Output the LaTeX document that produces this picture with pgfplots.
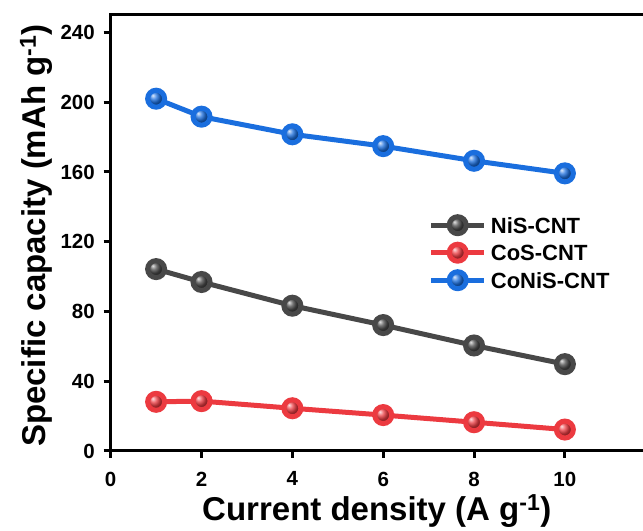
\documentclass[border=0pt]{standalone}
\usepackage{fontspec}
\setmainfont{Liberation Sans}
\usepackage{pgfplots}
\pgfplotsset{compat=1.18}
\usetikzlibrary{calc}
\definecolor{cgray}{RGB}{72,72,72}
\definecolor{cred}{RGB}{236,58,64}
\definecolor{cblue}{RGB}{26,110,222}
\begin{document}
\begin{tikzpicture}
\begin{axis}[
  name=ax,
  scale only axis, width=532.3pt, height=436pt,
  xmin=0, xmax=11.72, ymin=0, ymax=250,
  axis x line*=box, axis y line*=left,
  axis line style={line width=3pt, -, line cap=rect},
  xtick={0,2,4,6,8,10}, ytick={0,40,...,240},
  tick align=outside, xtick pos=bottom, ytick pos=left,
  major tick length=7pt,
  every tick/.style={black, line width=3pt},
  /pgf/number format/assume math mode=true,
  ticklabel style={font=\fontsize{20.5}{24}\selectfont\bfseries},
  xticklabel style={anchor=north, inner sep=0pt, yshift=-13.7pt},
  yticklabel style={anchor=east, inner sep=0pt, xshift=-8.7pt},
  xlabel={Current density (A g\textsuperscript{-1})},
  ylabel={Specific capacity (mAh g\textsuperscript{-1})},
  label style={font=\fontsize{33}{38}\selectfont\bfseries},
  xlabel style={at={(axis description cs:0.5,-0.1583)}, anchor=base, inner sep=0pt},
  ylabel style={at={(axis description cs:-0.1234,0.494)}, anchor=base, inner sep=0pt},
  legend image code/.code={\draw[mark repeat=2,mark phase=2,#1] plot coordinates {(0pt,0pt) (26.7pt,0pt) (53.4pt,0pt)};},
  legend cell align=left,
  legend style={at={(axis description cs:0.5967,0.4548)}, anchor=west, draw=none, fill=none,
    inner sep=0pt, row sep=0pt, column sep=4pt,
    nodes={inner sep=0pt, text height=21.6pt, text depth=5.9pt},
    font=\fontsize{22}{26.4}\selectfont\bfseries},
]
\addplot[cgray, line width=5pt, mark=ball, mark size=8.5pt, mark options={ball color=cgray}]
  coordinates {(1,104.3) (2,96.9) (4,83.3) (6,72.2) (8,60.5) (10,49.8)};
\addlegendentry{NiS-CNT}
\addplot[cred, line width=5pt, mark=ball, mark size=8.5pt, mark options={ball color=cred}]
  coordinates {(1,28.2) (2,28.6) (4,24.5) (6,20.6) (8,16.5) (10,12.3)};
\addlegendentry{CoS-CNT}
\addplot[cblue, line width=5pt, mark=ball, mark size=8.5pt, mark options={ball color=cblue}]
  coordinates {(1,202.0) (2,191.7) (4,181.6) (6,174.8) (8,166.4) (10,159.2)};
\addlegendentry{CoNiS-CNT}
\end{axis}
\pgfresetboundingbox
\path ($(ax.south west)+(-110.7pt,-80pt)$) rectangle ($(ax.north east)+(0pt,15pt)$);
\end{tikzpicture}
\end{document}
